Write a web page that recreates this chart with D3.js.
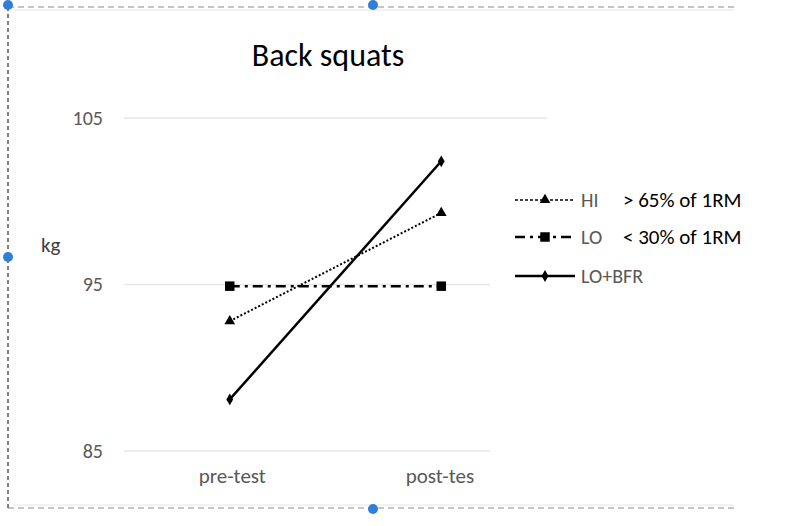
<!DOCTYPE html>
<html lang="en">
  <head>
    <meta charset="UTF-8" />
    <title>Back squats</title>
    <script src="https://cdn.jsdelivr.net/npm/d3@7/dist/d3.min.js"></script>
    <style>
      html,
      body {
        margin: 0;
        padding: 0;
        background: #fff;
      }
    </style>
  </head>
  <body>
    <script>
      const categories = ['pre-test', 'post-test'];
      const hiValues = [92.8, 99.3];
      const loValues = [94.9, 94.9];
      const bfrValues = [88.1, 102.4];
      const yTicks = [85, 95, 105];
      const seriesNames = ['HI', 'LO', 'LO+BFR'];
      const seriesNotes = ['> 65% of 1RM', '< 30% of 1RM', ''];

      const width = 800,
        height = 526;
      const font = 'Carlito, "Open Sans", "Liberation Sans", sans-serif';

      const svg = d3
        .select('body')
        .append('svg')
        .attr('width', width)
        .attr('height', height)
        .style('font-family', font);

      // selection frame round the chart
      const frame = svg.append('g').attr('stroke', '#8c8c8c').attr('fill', 'none');
      frame.append('line').attr('x1', 8).attr('x2', 734).attr('y1', 7).attr('y2', 7)
        .attr('stroke-dasharray', '6,4');
      frame.append('line').attr('x1', 8).attr('x2', 734).attr('y1', 508).attr('y2', 508)
        .attr('stroke-dasharray', '6,4');
      frame.append('line').attr('x1', 8).attr('x2', 8).attr('y1', 7).attr('y2', 508)
        .attr('stroke-dasharray', '4,3').attr('stroke', '#555').attr('stroke-width', 1.5);
      frame.append('line').attr('x1', 14).attr('x2', 734).attr('y1', 10).attr('y2', 10)
        .attr('stroke', '#e4e4e4');
      frame.append('line').attr('x1', 14).attr('x2', 734).attr('y1', 505).attr('y2', 505)
        .attr('stroke', '#e4e4e4');

      const x = d3.scalePoint().domain(categories).range([124, 547]).padding(0.5);
      const y = d3.scaleLinear().domain([85, 105]).range([451, 118]);

      // gridlines (lower ones are cut off by the cropped image)
      svg
        .append('g')
        .selectAll('line')
        .data(yTicks)
        .join('line')
        .attr('x1', 124)
        .attr('x2', (d) => (d === 105 ? 547 : 490))
        .attr('y1', (d) => y(d))
        .attr('y2', (d) => y(d))
        .attr('stroke', '#e6e6e6')
        .attr('stroke-width', 1.5);

      const yAxis = svg
        .append('g')
        .attr('transform', 'translate(112,0)')
        .call(d3.axisLeft(y).tickValues(yTicks).tickSize(0).tickPadding(9));
      yAxis.select('.domain').remove();
      yAxis.selectAll('text').attr('font-size', 20).attr('fill', '#595959').style('font-family', font);

      // the source image cuts the last letter of the second label
      svg
        .append('clipPath')
        .attr('id', 'xclip')
        .append('rect')
        .attr('x', 0)
        .attr('y', 455)
        .attr('width', 474)
        .attr('height', 40);

      const xAxis = svg
        .append('g')
        .attr('clip-path', 'url(#xclip)')
        .append('g')
        .attr('transform', 'translate(2,468)')
        .call(d3.axisBottom(x).tickSize(0).tickPadding(0));
      xAxis.select('.domain').remove();
      xAxis.selectAll('text').attr('font-size', 21).attr('fill', '#595959').style('font-family', font);
      xAxis.selectAll('.tick').filter((d) => d === 'post-test').select('text')
        .attr('text-anchor', 'start').attr('x', -38);

      svg
        .append('text')
        .attr('x', 328)
        .attr('y', 66)
        .attr('text-anchor', 'middle')
        .attr('font-size', 32)
        .attr('fill', '#000')
        .text('Back squats');

      svg
        .append('text')
        .attr('x', 41)
        .attr('y', 252)
        .attr('font-size', 21)
        .attr('fill', '#404040')
        .text('kg');

      const series = [
        { name: 'HI', values: hiValues, dash: '2,2', width: 2, marker: d3.symbolTriangle, size: 50 },
        { name: 'LO', values: loValues, dash: '10,5,3,5', width: 2.5, marker: d3.symbolSquare, size: 90 },
        { name: 'LO+BFR', values: bfrValues, dash: null, width: 2.5, marker: d3.symbolDiamond, size: 40 },
      ];

      const line = d3
        .line()
        .x((d, i) => x(categories[i]))
        .y((d) => y(d));

      series.forEach((s) => {
        svg
          .append('path')
          .attr('d', line(s.values))
          .attr('fill', 'none')
          .attr('stroke', '#000')
          .attr('stroke-width', s.width)
          .attr('stroke-dasharray', s.dash);
        svg
          .append('g')
          .selectAll('path')
          .data(s.values)
          .join('path')
          .attr('d', d3.symbol(s.marker, s.size))
          .attr('transform', (d, i) => `translate(${x(categories[i])},${y(d)})`)
          .attr('fill', '#000');
      });

      // legend
      const legendY = [200, 237, 276];
      const legend = svg
        .append('g')
        .selectAll('g')
        .data(series)
        .join('g')
        .attr('transform', (d, i) => `translate(515,${legendY[i]})`);
      legend
        .append('line')
        .attr('x1', 0)
        .attr('x2', 60)
        .attr('stroke', '#000')
        .attr('stroke-width', (d) => (d.name === 'HI' ? 1.5 : d.width))
        .attr('stroke-dasharray', (d) => (d.name === 'HI' ? '3,2' : d.dash));
      legend
        .append('path')
        .attr('d', (d) => d3.symbol(d.marker, d.size)())
        .attr('transform', 'translate(30,0)')
        .attr('fill', '#000');
      legend
        .append('text')
        .attr('x', 66)
        .attr('y', 7)
        .attr('font-size', 20)
        .attr('fill', '#595959')
        .text((d, i) => seriesNames[i]);
      legend
        .append('text')
        .attr('x', 108)
        .attr('y', 7)
        .attr('font-size', 21)
        .attr('fill', '#000')
        .text((d, i) => seriesNotes[i]);

      // selection handles
      svg
        .append('g')
        .selectAll('circle')
        .data([[8, 5], [373, 5], [8, 257], [373, 509]])
        .join('circle')
        .attr('cx', (d) => d[0])
        .attr('cy', (d) => d[1])
        .attr('r', 5)
        .attr('fill', '#2f7fd8');
    </script>
  </body>
</html>
